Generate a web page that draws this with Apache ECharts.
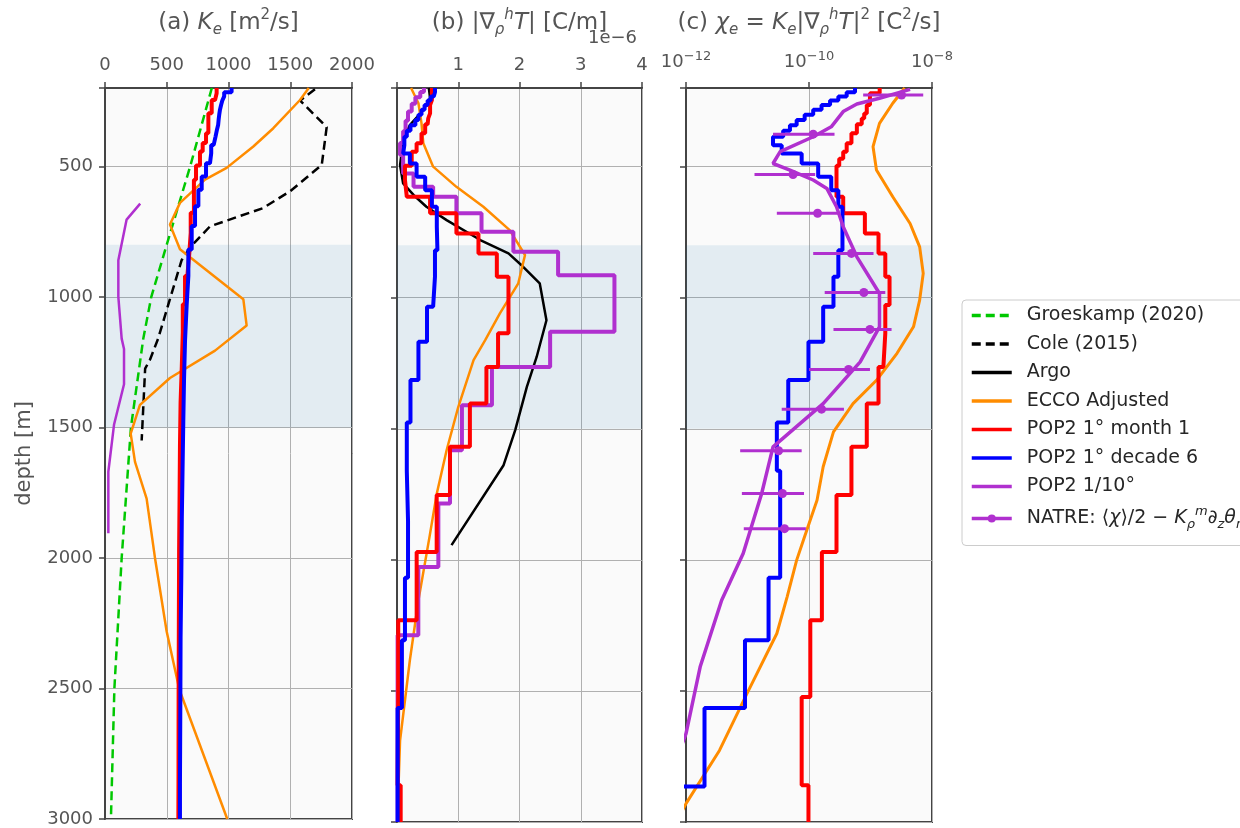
<!DOCTYPE html>
<html>
<head>
<meta charset="utf-8">
<script src="https://cdn.jsdelivr.net/npm/echarts@6/dist/echarts.min.js"></script>
<style>
  html, body { margin: 0; padding: 0; background: #fff; }
  #chart { width: 1240px; height: 828px; }
</style>
</head>
<body>
<div id="chart"></div>
<script>
// ---- data ----
// depth band that is shaded in every panel
const bandDepth = [800, 1500];

// (a) Ke [m2/s]
const groesDepth = [200, 500, 800, 1000, 1160, 1500, 2000, 2500, 3000];
const groesKe = [865, 690, 500, 375, 310, 210, 135, 76, 48];
const coleDepth = [205, 248, 350, 495, 595, 660, 730, 810, 860, 1010, 1160, 1240, 1275, 1550];
const coleKe = [1700, 1580, 1795, 1755, 1500, 1280, 850, 690, 620, 525, 430, 365, 325, 297];
const eccoDepthA = [200, 246, 354, 424, 506, 551, 640, 723, 818, 1009, 1110, 1206, 1311, 1414, 1524, 1632, 1773, 2001, 2281, 2504, 3000];
const eccoKe = [1650, 1579, 1363, 1201, 985, 810, 607, 526, 607, 1120, 1147, 891, 526, 283, 208, 243, 337, 405, 499, 602, 990];
const p10DepthA = [643, 704, 860, 1000, 1160, 1200, 1335, 1490, 1670, 1905];
const p10Ke = [285, 175, 108, 108, 135, 154, 154, 73, 27, 27];

// POP2 1 deg, month 1 (layer edges + one value per layer)
const redEdges = [200, 220, 246, 265, 297, 316, 338, 373, 411, 443, 470, 497, 551, 615, 678, 755, 831, 920, 1028, 1136, 1264, 1404, 1569, 1753, 1970, 2230, 2523, 2860, 3000];
const redKe = [904, 891, 864, 864, 837, 837, 837, 818, 791, 769, 769, 737, 720, 720, 694, 683, 667, 648, 630, 622, 612, 607, 604, 600, 598, 596, 595, 594];
const redGrad = [0.57, 0.57, 0.54, 0.54, 0.51, 0.50, 0.46, 0.40, 0.32, 0.24, 0.24, 0.13, 0.16, 0.54, 0.97, 1.33, 1.63, 1.82, 1.82, 1.65, 1.46, 1.19, 0.865, 0.648, 0.321, 0.02, 0.01, 0.06];
const redChi = [1.41e-9, 9.8e-10, 9.8e-10, 8.7e-10, 7.9e-10, 7.2e-10, 6.0e-10, 4.9e-10, 4.1e-10, 3.6e-10, 3.1e-10, 2.8e-10, 2.8e-10, 3.6e-10, 8.1e-10, 1.35e-9, 1.74e-9, 2.04e-9, 1.74e-9, 1.62e-9, 1.35e-9, 8.7e-10, 4.9e-10, 2.8e-10, 1.62e-10, 1.05e-10, 7.6e-11, 9.8e-11];

// POP2 1 deg, decade 6
const blueEdges = [200, 216, 232, 248, 265, 283, 302, 322, 342, 363, 386, 418, 450, 488, 539, 590, 653, 729, 819, 920, 1034, 1168, 1314, 1476, 1660, 1850, 2068, 2307, 2565, 2865, 3000];
const blueKe = [1025, 965, 950, 940, 931, 925, 920, 916, 905, 895, 880, 860, 850, 818, 783, 756, 729, 702, 675, 661, 648, 640, 634, 628, 622, 618, 612, 610, 607, 607];
const blueGrad = [0.62, 0.60, 0.55, 0.50, 0.45, 0.40, 0.35, 0.30, 0.22, 0.16, 0.12, 0.10, 0.21, 0.32, 0.46, 0.57, 0.65, 0.66, 0.62, 0.59, 0.49, 0.35, 0.22, 0.16, 0.18, 0.18, 0.13, 0.08, 0.01, 0.01];
const blueChi = [5.6e-10, 4.1e-10, 3.0e-10, 2.2e-10, 1.6e-10, 1.17e-10, 8.5e-11, 6.3e-11, 4.9e-11, 3.8e-11, 2.6e-11, 3.6e-11, 7.6e-11, 1.41e-10, 2.3e-10, 3.0e-10, 3.5e-10, 3.5e-10, 3.0e-10, 2.5e-10, 1.7e-10, 9.8e-11, 4.6e-11, 3.0e-11, 3.4e-11, 3.4e-11, 2.2e-11, 9.1e-12, 2.0e-12, 5e-13];

// (b) |grad T| in units of 1e-6 C/m
const argoDepth = [200, 239, 284, 341, 398, 494, 564, 608, 653, 704, 780, 831, 882, 945, 1086, 1226, 1340, 1505, 1639, 1944];
const argoGrad = [0.52, 0.54, 0.43, 0.21, 0.10, 0.05, 0.10, 0.27, 0.48, 0.81, 1.36, 1.82, 2.06, 2.33, 2.44, 2.28, 2.12, 1.93, 1.74, 0.89];
const eccoDepthB = [200, 258, 335, 411, 500, 577, 653, 742, 837, 945, 1060, 1162, 1238, 1417, 1582, 1747, 1900, 2154, 2383, 2689, 3000];
const eccoGrad = [0.23, 0.35, 0.40, 0.43, 0.59, 0.97, 1.41, 1.84, 2.09, 1.98, 1.68, 1.44, 1.25, 1.00, 0.81, 0.65, 0.54, 0.35, 0.21, 0.05, 0.005];
const p10Edges = [200, 215, 235, 260, 290, 325, 365, 410, 456, 526, 577, 615, 678, 748, 825, 914, 1130, 1264, 1410, 1582, 1785, 2027, 2288, 3000];
const p10Grad = [0.44, 0.38, 0.30, 0.24, 0.18, 0.14, 0.10, 0.05, 0.10, 0.27, 0.59, 0.97, 1.38, 1.90, 2.63, 3.55, 2.50, 1.55, 1.06, 0.865, 0.675, 0.348, 0.01];

// (c) chi_e [C2/s]
const eccoDepthC = [200, 258, 335, 424, 513, 615, 717, 806, 907, 1009, 1111, 1212, 1315, 1404, 1512, 1645, 1773, 1925, 2001, 2142, 2281, 2510, 2727, 2930, 3000];
const eccoChi = [3.6e-9, 2.3e-9, 1.4e-9, 1.1e-9, 1.25e-9, 2.3e-9, 4.4e-9, 6.3e-9, 7.2e-9, 6.3e-9, 5.0e-9, 2.7e-9, 1.25e-9, 5.2e-10, 2.5e-10, 1.7e-10, 1.35e-10, 8.1e-11, 6.3e-11, 4.4e-11, 3.0e-11, 9.8e-12, 3.5e-12, 1.0e-12, 7e-13];
const p10DepthC = [205, 239, 261, 290, 348, 386, 443, 488, 513, 551, 583, 653, 729, 844, 984, 1111, 1245, 1404, 1569, 1747, 1976, 2154, 2408, 2663, 2760];
const p10Chi = [4.4e-9, 1.4e-9, 6.0e-10, 3.6e-10, 2.3e-10, 1.17e-10, 3.4e-11, 2.6e-11, 4.9e-11, 1.17e-10, 1.95e-10, 2.8e-10, 3.6e-10, 6.0e-10, 1.4e-9, 1.4e-9, 6.8e-10, 1.7e-10, 2.6e-11, 1.7e-11, 8.5e-12, 3.8e-12, 1.7e-12, 1.0e-12, 7e-13];
const natreDepth = [227, 376, 530, 678, 831, 980, 1121, 1274, 1425, 1584, 1747, 1881];
const natreChi = [3.2e-9, 1.17e-10, 5.5e-11, 1.38e-10, 4.9e-10, 7.8e-10, 9.8e-10, 4.4e-10, 1.6e-10, 3.2e-11, 3.7e-11, 4.0e-11];
const natreLo = [7.6e-10, 2.6e-11, 1.3e-11, 3.0e-11, 1.17e-10, 1.8e-10, 2.5e-10, 1.0e-10, 3.6e-11, 7.6e-12, 8.1e-12, 8.7e-12];
const natreHi = [7.2e-9, 2.6e-10, 1.26e-10, 3.1e-10, 1.12e-9, 1.74e-9, 2.2e-9, 9.8e-10, 3.7e-10, 7.6e-11, 8.3e-11, 8.9e-11];

const legendNames = ['Groeskamp (2020)', 'Cole (2015)', 'Argo', 'ECCO Adjusted',
  'POP2 1° month 1', 'POP2 1° decade 6', 'POP2 1/10°', 'NATRE'];

// ---- styling ----
const FONT = 'DejaVu Sans';
const TXT = '#555';
const SPINE = '#444';
const COL = {
  green: '#00c800', black: '#000000', orange: '#ff8c00',
  red: '#ff0000', blue: '#0000ff', purple: '#b030cf'
};

const richMath = {
  i: { fontStyle: 'italic' },
  sub: { fontSize: 15, fontStyle: 'italic', verticalAlign: 'bottom', lineHeight: 30 },
  supi: { fontSize: 15, fontStyle: 'italic', verticalAlign: 'top', lineHeight: 30 },
  sup: { fontSize: 15, verticalAlign: 'top', lineHeight: 30 }
};

function zip(vals, depths) {
  return depths.map((d, i) => [vals[i], d]);
}
// layer values -> vertical segments joined by horizontal steps
function steps(edges, vals) {
  const out = [];
  vals.forEach((v, i) => { out.push([v, edges[i]], [v, edges[i + 1]]); });
  return out;
}

function line(name, panel, data, color, width, dashed) {
  return {
    type: 'line', name: name, xAxisIndex: panel, yAxisIndex: panel,
    data: data, symbol: 'none', clip: true, silent: true,
    lineStyle: { color: color, width: width, type: dashed ? [9, 5] : 'solid', cap: 'butt' },
    itemStyle: { color: color }
  };
}

function band(panel) {
  return {
    type: 'line', xAxisIndex: panel, yAxisIndex: panel, data: [], silent: true,
    markArea: {
      silent: true,
      itemStyle: { color: 'rgba(31,119,180,0.1)' },
      data: [[{ yAxis: bandDepth[0] }, { yAxis: bandDepth[1] }]]
    }
  };
}

const grids = [
  { left: 105, top: 88, width: 247, height: 734 },
  { left: 397, top: 88, width: 245, height: 734 },
  { left: 686, top: 88, width: 246, height: 734 }
].map(g => Object.assign(g, {
  show: true, backgroundColor: '#fafafa', borderColor: SPINE, borderWidth: 2, containLabel: false
}));

const tickStyle = { show: true, inside: false, length: 6, lineStyle: { color: SPINE, width: 1.5 } };
const splitStyle = { show: true, lineStyle: { color: '#b0b0b0', width: 1 } };
const labelBase = { fontFamily: FONT, fontSize: 18, color: TXT };
const titleStyle = { fontFamily: FONT, fontSize: 23, color: TXT, rich: richMath };

const xAxes = [
  {
    gridIndex: 0, type: 'value', position: 'top', min: 0, max: 2000, interval: 500,
    name: '(a) {i|K}{sub|e} [m{sup|2}/s]',
    axisLabel: Object.assign({ margin: 14, formatter: v => String(v) }, labelBase)
  },
  {
    gridIndex: 1, type: 'value', position: 'top', min: 0, max: 4, interval: 1,
    name: '(b) |∇{sub|ρ}{supi|h}{i|T}| [C/m]',
    axisLabel: Object.assign({ margin: 14, formatter: v => (v === 0 ? '' : String(v)) }, labelBase)
  },
  {
    gridIndex: 2, type: 'log', logBase: 10, position: 'top', min: 1e-12, max: 1e-8, interval: 2,
    name: '(c) {i|χ}{sub|e} = {i|K}{sub|e}|∇{sub|ρ}{supi|h}{i|T}|{sup|2} [C{sup|2}/s]',
    axisLabel: Object.assign({
      margin: 14,
      formatter: v => '10{e|' + String(Math.round(Math.log10(v))).replace('-', '−') + '}',
      rich: { e: { fontSize: 13, verticalAlign: 'top', lineHeight: 24 } }
    }, labelBase)
  }
].map(a => Object.assign(a, {
  nameLocation: 'middle', nameGap: 50, nameTextStyle: titleStyle,
  axisLine: { show: true, lineStyle: { color: SPINE, width: 2 } },
  axisTick: tickStyle,
  splitLine: splitStyle,
  minorTick: { show: false },
  minorSplitLine: { show: false }
}));

const yAxes = [0, 1, 2].map(i => ({
  gridIndex: i, type: 'value', inverse: true, min: 200, max: 3000,
  name: i === 0 ? 'depth [m]' : '',
  nameLocation: 'middle', nameGap: 70, nameRotate: 90,
  nameTextStyle: { fontFamily: FONT, fontSize: 21, color: TXT },
  axisLine: { show: true, lineStyle: { color: SPINE, width: 2 } },
  axisTick: tickStyle,
  splitLine: splitStyle,
  axisLabel: Object.assign({
    show: i === 0, margin: 12,
    formatter: v => (v % 500 === 0 ? String(v) : '')
  }, labelBase)
}));

const series = [
  band(0), band(1), band(2),
  // (a)
  line('Groeskamp (2020)', 0, zip(groesKe, groesDepth), COL.green, 2.5, true),
  line('Cole (2015)', 0, zip(coleKe, coleDepth), COL.black, 2.5, true),
  line('ECCO Adjusted', 0, zip(eccoKe, eccoDepthA), COL.orange, 2.5, false),
  line('POP2 1° month 1', 0, steps(redEdges, redKe), COL.red, 4, false),
  line('POP2 1° decade 6', 0, steps(blueEdges, blueKe), COL.blue, 4, false),
  line('POP2 1/10°', 0, zip(p10Ke, p10DepthA), COL.purple, 2.5, false),
  // (b)
  line('Argo', 1, zip(argoGrad, argoDepth), COL.black, 2.5, false),
  line('ECCO Adjusted', 1, zip(eccoGrad, eccoDepthB), COL.orange, 2.5, false),
  line('POP2 1/10°', 1, steps(p10Edges, p10Grad), COL.purple, 4, false),
  line('POP2 1° month 1', 1, steps(redEdges, redGrad), COL.red, 4, false),
  line('POP2 1° decade 6', 1, steps(blueEdges, blueGrad), COL.blue, 4, false),
  // (c)
  line('ECCO Adjusted', 2, zip(eccoChi, eccoDepthC), COL.orange, 3, false),
  line('POP2 1° month 1', 2, steps(redEdges, redChi), COL.red, 4, false),
  line('POP2 1° decade 6', 2, steps(blueEdges, blueChi), COL.blue, 4, false),
  line('POP2 1/10°', 2, zip(p10Chi, p10DepthC), COL.purple, 3.5, false),
  {
    type: 'line', name: 'NATRE', xAxisIndex: 2, yAxisIndex: 2,
    data: zip(natreChi, natreDepth), symbol: 'circle', symbolSize: 9, showSymbol: true,
    silent: true, lineStyle: { opacity: 0, color: COL.purple, width: 3 },
    itemStyle: { color: COL.purple }, z: 4
  },
  {
    type: 'custom', name: 'NATRE', xAxisIndex: 2, yAxisIndex: 2, silent: true, z: 4,
    data: natreDepth.map((d, i) => [natreLo[i], natreHi[i], d]),
    encode: { x: [0, 1], y: 2 },
    renderItem: (params, api) => {
      const a = api.coord([api.value(0), api.value(2)]);
      const b = api.coord([api.value(1), api.value(2)]);
      return {
        type: 'line',
        shape: { x1: a[0], y1: a[1], x2: b[0], y2: b[1] },
        style: { stroke: COL.purple, lineWidth: 3 }
      };
    }
  }
];

const legendText = {
  'NATRE': 'NATRE: ⟨{i|χ}⟩/2 − {i|K}{lsub|ρ}{lsup|m}∂{lsub|z}{i|θ}{lsub|m}{lsup|2}'
};

const option = {
  animation: false,
  backgroundColor: '#ffffff',
  textStyle: { fontFamily: FONT },
  grid: grids,
  xAxis: xAxes,
  yAxis: yAxes,
  legend: {
    orient: 'vertical', left: 962, top: 300,
    itemWidth: 40, itemHeight: 10, itemGap: 9.5,
    padding: [6, 10, 14, 8],
    backgroundColor: 'rgba(255,255,255,0.85)',
    borderColor: '#cccccc', borderWidth: 1, borderRadius: 4,
    selectedMode: false,
    lineStyle: { width: 3.5 },
    itemStyle: { borderWidth: 0 },
    textStyle: {
      fontFamily: FONT, fontSize: 19, color: '#262626', padding: [0, 0, 0, 10],
      rich: {
        i: { fontStyle: 'italic' },
        lsub: { fontSize: 13, fontStyle: 'italic', verticalAlign: 'bottom', lineHeight: 26 },
        lsup: { fontSize: 13, fontStyle: 'italic', verticalAlign: 'top', lineHeight: 26 }
      }
    },
    formatter: name => legendText[name] || name,
    data: legendNames.map(n => (n === 'NATRE'
      ? { name: n, lineStyle: { opacity: 1, width: 3.5, color: COL.purple }, itemStyle: { opacity: 1 } }
      : { name: n, itemStyle: { opacity: 0 } }))
  },
  graphic: [{
    type: 'text', left: 588, top: 29,
    style: { text: '1e−6', font: '18px "DejaVu Sans"', fill: TXT }
  }],
  series: series
};

const chart = echarts.init(document.getElementById('chart'));
chart.setOption(option);
</script>
</body>
</html>
